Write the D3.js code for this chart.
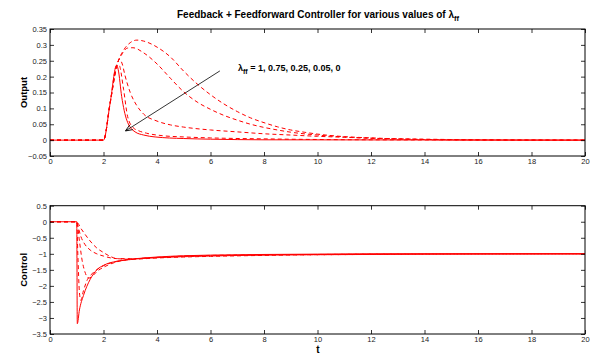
<!DOCTYPE html>
<html>
<head>
<meta charset="utf-8">
<script src="https://cdn.jsdelivr.net/npm/d3@7"></script>
<style>
  body { margin: 0; background: #fff; }
  text { font-family: "Liberation Sans", Arial, sans-serif; }
</style>
</head>
<body>
<div id="container"></div>
<script>
// time axis ticks, shared by both panels
var tTicks = [0, 2, 4, 6, 8, 10, 12, 14, 16, 18, 20];
var outputTicks = [-0.05, 0, 0.05, 0.1, 0.15, 0.2, 0.25, 0.3, 0.35];
var controlTicks = [-3.5, -3, -2.5, -2, -1.5, -1, -0.5, 0, 0.5];
var lambdas = ['1', '0.75', '0.25', '0.05', '0'];

// output, [t, y]
var outLam1 = [[0,0],[2,0],[2.25,0.118],[2.5,0.235],[2.75,0.283],[3,0.307],[3.25,0.315],[3.5,0.312],[4,0.293],[4.5,0.262],[5,0.217],[5.5,0.177],[6,0.143],[6.5,0.114],[7,0.09],[7.5,0.07],[8,0.055],[8.5,0.042],[9,0.032],[9.5,0.025],[10,0.019],[11,0.011],[12,0.007],[13,0.004],[14,0.002],[16,0.0005],[20,0]];
var outLam075 = [[0,0],[2,0],[2.25,0.118],[2.5,0.235],[2.7,0.272],[2.9,0.29],[3.1,0.291],[3.5,0.275],[4,0.24],[4.5,0.195],[5,0.152],[5.5,0.12],[6,0.097],[6.5,0.078],[7,0.063],[7.5,0.05],[8,0.04],[8.5,0.032],[9,0.025],[10,0.016],[11,0.01],[12,0.006],[13,0.0035],[14,0.002],[16,0.0005],[20,0]];
var outLam025 = [[0,0],[2,0],[2.25,0.118],[2.5,0.235],[2.6,0.255],[2.7,0.24],[2.8,0.205],[3,0.15],[3.25,0.108],[3.5,0.082],[4,0.06],[4.5,0.048],[5,0.041],[6,0.032],[7,0.026],[8,0.02],[9,0.016],[10,0.012],[11,0.009],[12,0.006],[13,0.004],[14,0.003],[16,0.001],[20,0]];
var outLam005 = [[0,0],[2,0],[2.25,0.118],[2.5,0.236],[2.58,0.236],[2.75,0.16],[2.9,0.075],[3.1,0.04],[3.3,0.03],[3.6,0.022],[4.2,0.014],[5,0.01],[6,0.007],[8,0.004],[10,0.002],[12,0.001],[20,0]];
var outLam0 = [[0,0],[2,0],[2.25,0.118],[2.49,0.236],[2.55,0.222],[2.68,0.137],[2.87,0.063],[3.18,0.026],[3.5,0.016],[3.93,0.01],[5,0.005],[6,0.003],[8,0.001],[20,0]];

// control signal, [t, u]
var ctlA = [[0,0],[1,0],[1.02,-3.18],[1.1,-2.75],[1.25,-2.3],[1.5,-1.8],[1.75,-1.5],[2,-1.36],[2.5,-1.23],[3,-1.17],[3.5,-1.13],[4,-1.1],[5,-1.06],[6,-1.04],[7,-1.03],[8,-1.02],[10,-1.01],[12,-1.0],[20,-1.0]];
var ctlB = [[0,0],[1,0],[1.04,-1.0],[1.1,-2.2],[1.15,-2.45],[1.25,-2.15],[1.4,-1.8],[1.6,-1.6],[2,-1.37],[2.5,-1.24],[3,-1.18],[4,-1.11],[5,-1.07],[6,-1.05],[8,-1.03],[10,-1.02],[12,-1.01],[20,-1.0]];
var ctlC = [[0,0],[1,0],[1.1,-0.6],[1.2,-1.2],[1.3,-1.55],[1.45,-1.76],[1.6,-1.68],[1.8,-1.52],[2,-1.42],[2.5,-1.25],[3,-1.18],[4,-1.12],[5,-1.08],[6,-1.06],[8,-1.04],[10,-1.02],[12,-1.01],[20,-1.0]];
var ctlD = [[0,0],[1,0],[1.05,-0.15],[1.15,-0.45],[1.3,-0.7],[1.5,-0.88],[1.75,-1.0],[2,-1.07],[2.5,-1.15],[3,-1.15],[4,-1.12],[5,-1.09],[6,-1.07],[8,-1.04],[10,-1.03],[12,-1.02],[14,-1.01],[20,-1.0]];
var ctlE = [[0,0],[1,0],[1.05,-0.05],[1.15,-0.2],[1.3,-0.38],[1.5,-0.6],[1.75,-0.82],[2,-0.96],[2.25,-1.08],[2.5,-1.15],[3,-1.17],[4,-1.13],[5,-1.1],[6,-1.08],[8,-1.05],[10,-1.03],[12,-1.02],[14,-1.01],[20,-1.0]];

var outSeries = [outLam1, outLam075, outLam025, outLam005, outLam0];
var ctlSeries = [ctlE, ctlD, ctlC, ctlB, ctlA];

var svg = d3.select('#container')
    .append('svg')
        .attr('width', 592)
        .attr('height', 354)

var x = d3.scaleLinear().domain([0, 20]).range([50, 585]);

var fmt = function(v) { return String(+v.toFixed(2)).replace('-', '\u2212') }

var panel = function(y, ticks, series, label) {
    var top = y.range()[1], bottom = y.range()[0];
    var g = svg.append('g');

    var line = d3.line()
        .x(function(d) { return x(d[0]) })
        .y(function(d) { return y(d[1]) })
        .curve(d3.curveMonotoneX)

    g.selectAll('path.series').data(series)
        .enter().append('path')
            .attr('class', 'series')
            .attr('d', line)
            .attr('fill', 'none')
            .attr('stroke', '#ff0000')
            .attr('stroke-width', 1)
            .attr('stroke-dasharray', function(d, i) { return i == series.length - 1 ? null : '4,3' })

    var axes = [
        [d3.axisBottom(x).tickValues(tTicks).tickFormat(fmt), 'translate(0,' + bottom + ')'],
        [d3.axisTop(x).tickValues(tTicks).tickFormat(''), 'translate(0,' + top + ')'],
        [d3.axisLeft(y).tickValues(ticks).tickFormat(fmt), 'translate(50,0)'],
        [d3.axisRight(y).tickValues(ticks).tickFormat(''), 'translate(585,0)']
    ];
    axes.forEach(function(a) {
        var ax = g.append('g')
            .attr('transform', a[1])
            .call(a[0].tickSize(-4).tickPadding(3))
        ax.select('.domain').remove()
        ax.selectAll('line').attr('stroke', '#000').attr('stroke-width', 0.8)
        ax.selectAll('text').attr('font-size', 7.5).attr('fill', '#222').attr('font-family', '"Liberation Sans", Arial, sans-serif')
    })

    g.append('rect')
        .attr('x', 50)
        .attr('y', top)
        .attr('width', 535)
        .attr('height', bottom - top)
        .attr('fill', 'none')
        .attr('stroke', '#000')
        .attr('stroke-width', 1)

    g.append('text')
        .attr('transform', 'translate(27,' + (top + bottom) / 2 + ') rotate(-90)')
        .attr('text-anchor', 'middle')
        .attr('font-size', 9.5)
        .attr('font-weight', 'bold')
        .text(label)

    return g;
}

var yOut = d3.scaleLinear().domain([-0.05, 0.35]).range([156, 29]);
var yCtl = d3.scaleLinear().domain([-3.5, 0.5]).range([334, 205.7]);

panel(yOut, outputTicks, outSeries, 'Output');
panel(yCtl, controlTicks, ctlSeries, 'Control');

// title
var title = svg.append('text')
    .attr('x', 318)
    .attr('y', 18)
    .attr('text-anchor', 'middle')
    .attr('font-size', 10)
    .attr('font-weight', 'bold')
title.append('tspan').text('Feedback + Feedforward Controller for various values of \u03bb')
title.append('tspan').attr('dy', 3).attr('font-size', 7.5).text('ff')

// annotation + arrow
svg.append('defs').append('marker')
    .attr('id', 'head')
    .attr('viewBox', '0 0 10 10')
    .attr('refX', 9).attr('refY', 5)
    .attr('markerWidth', 9).attr('markerHeight', 7)
    .attr('markerUnits', 'userSpaceOnUse')
    .attr('orient', 'auto')
  .append('path')
    .attr('d', 'M0,1 L10,5 L0,9')
    .attr('fill', 'none')
    .attr('stroke', '#000')
    .attr('stroke-width', 1.2)

svg.append('line')
    .attr('x1', x(6.35)).attr('y1', yOut(0.218))
    .attr('x2', x(2.84)).attr('y2', yOut(0.03))
    .attr('stroke', '#000')
    .attr('stroke-width', 0.8)
    .attr('marker-end', 'url(#head)')

var note = svg.append('text')
    .attr('x', 238)
    .attr('y', 71)
    .attr('font-size', 9)
    .attr('font-weight', 'bold')
note.append('tspan').text('\u03bb')
note.append('tspan').attr('dy', 3).attr('font-size', 7).text('ff')
note.append('tspan').attr('dy', -3).text(' = ' + lambdas.join(', '))

svg.append('text')
    .attr('x', 318)
    .attr('y', 353)
    .attr('text-anchor', 'middle')
    .attr('font-size', 10)
    .attr('font-weight', 'bold')
    .text('t')
</script>
</body>
</html>
